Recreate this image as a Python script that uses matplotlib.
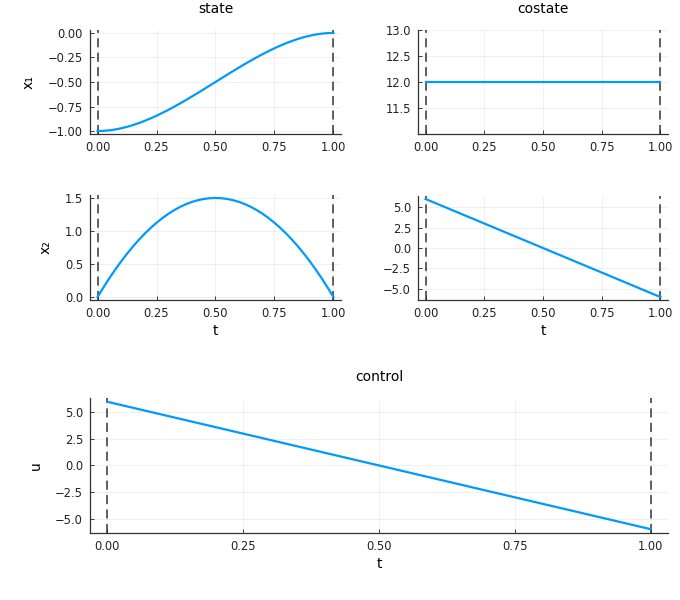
import numpy as np
import matplotlib.pyplot as plt

# tiempo y valores
t = [0.0, 0.025, 0.05, 0.075, 0.1, 0.125, 0.15, 0.175, 0.2, 0.225, 0.25,
     0.275, 0.3, 0.325, 0.35, 0.375, 0.4, 0.425, 0.45, 0.475, 0.5,
     0.525, 0.55, 0.575, 0.6, 0.625, 0.65, 0.675, 0.7, 0.725, 0.75,
     0.775, 0.8, 0.825, 0.85, 0.875, 0.9, 0.925, 0.95, 0.975, 1.0]
x1 = [-1.0, -0.9982, -0.9928, -0.984, -0.972, -0.957, -0.9393, -0.9188, -0.896, -0.8709, -0.8438,
      -0.8147, -0.784, -0.7518, -0.7183, -0.6836, -0.648, -0.6117, -0.5748, -0.5375, -0.5,
      -0.4625, -0.4252, -0.3883, -0.352, -0.3164, -0.2818, -0.2482, -0.216, -0.1853, -0.1563,
      -0.1291, -0.104, -0.0812, -0.0608, -0.043, -0.028, -0.016, -0.0073, -0.0018, 0.0]
x2 = [0.0, 0.146, 0.285, 0.416, 0.54, 0.656, 0.765, 0.866, 0.96, 1.046, 1.125,
      1.196, 1.26, 1.316, 1.365, 1.406, 1.44, 1.466, 1.485, 1.496, 1.5,
      1.496, 1.485, 1.466, 1.44, 1.406, 1.365, 1.316, 1.26, 1.196, 1.125,
      1.046, 0.96, 0.866, 0.765, 0.656, 0.54, 0.416, 0.285, 0.146, 0.0]
t_lin = [0.0, 1.0]
p1 = [12.0, 12.0]
p2 = [6.0, -6.0]
u = [6.0, -6.0]
t0, tf = 0.0, 1.0

azul = '#009AFA'
xt = [0, 0.25, 0.5, 0.75, 1.0]
xtl = ['0.00', '0.25', '0.50', '0.75', '1.00']

fig = plt.figure(figsize=(6.8, 6), dpi=100)

def estilo(ax, yt, ytl, ylim, titulo=None, ylab=None, xlab=None):
    ax.set_xlim(-0.032, 1.032)
    ax.set_ylim(*ylim)
    ax.set_xticks(xt)
    ax.set_xticklabels(xtl)
    ax.set_yticks(yt)
    ax.set_yticklabels(ytl)
    ax.tick_params(direction='in', labelsize=8.3, length=3, width=0.6,
                   colors='#222222', pad=5)
    for s in ['top', 'right']:
        ax.spines[s].set_visible(False)
    for s in ['left', 'bottom']:
        ax.spines[s].set_color('#333333')
        ax.spines[s].set_linewidth(0.9)
    ax.grid(True, color='black', alpha=0.07, linewidth=0.6)
    ax.axvline(t0, color='#555555', ls=(0, (5, 3)), lw=1.3, zorder=1)
    ax.axvline(tf, color='#555555', ls=(0, (5, 3)), lw=1.3, zorder=1)
    if titulo:
        ax.set_title(titulo, fontsize=10, pad=12)
    if ylab:
        ax.set_ylabel(ylab, fontsize=10, labelpad=9)
    if xlab:
        ax.set_xlabel(xlab, fontsize=10, labelpad=3)

ax1 = fig.add_axes([0.1324, 0.7767, 0.369, 0.1733])
ax1.plot(t, x1, color=azul, lw=1.6, zorder=3)
estilo(ax1, [-1, -0.75, -0.5, -0.25, 0], ['−1.00', '−0.75', '−0.50', '−0.25', '0.00'],
       (-1.03, 0.03), titulo='state', ylab='x₁')

ax2 = fig.add_axes([0.6147, 0.7767, 0.3676, 0.1733])
ax2.plot(t_lin, p1, color=azul, lw=1.6, zorder=3)
estilo(ax2, [11.5, 12, 12.5, 13], ['11.5', '12.0', '12.5', '13.0'],
       (11.0, 13.0), titulo='costate')

ax3 = fig.add_axes([0.1324, 0.5, 0.369, 0.175])
ax3.plot(t, x2, color=azul, lw=1.6, zorder=3)
estilo(ax3, [0, 0.5, 1.0, 1.5], ['0.0', '0.5', '1.0', '1.5'],
       (-0.045, 1.545), ylab='x₂', xlab='t')

ax4 = fig.add_axes([0.6147, 0.5, 0.3676, 0.1733])
ax4.plot(t_lin, p2, color=azul, lw=1.6, zorder=3)
estilo(ax4, [-5, -2.5, 0, 2.5, 5], ['−5.0', '−2.5', '0.0', '2.5', '5.0'],
       (-6.36, 6.36), xlab='t')

ax5 = fig.add_axes([0.1324, 0.1117, 0.85, 0.225])
ax5.plot(t_lin, u, color=azul, lw=1.6, zorder=3)
estilo(ax5, [-5, -2.5, 0, 2.5, 5], ['−5.0', '−2.5', '0.0', '2.5', '5.0'],
       (-6.36, 6.36), titulo='control', ylab='u', xlab='t')

plt.savefig('out.png', dpi=100)
